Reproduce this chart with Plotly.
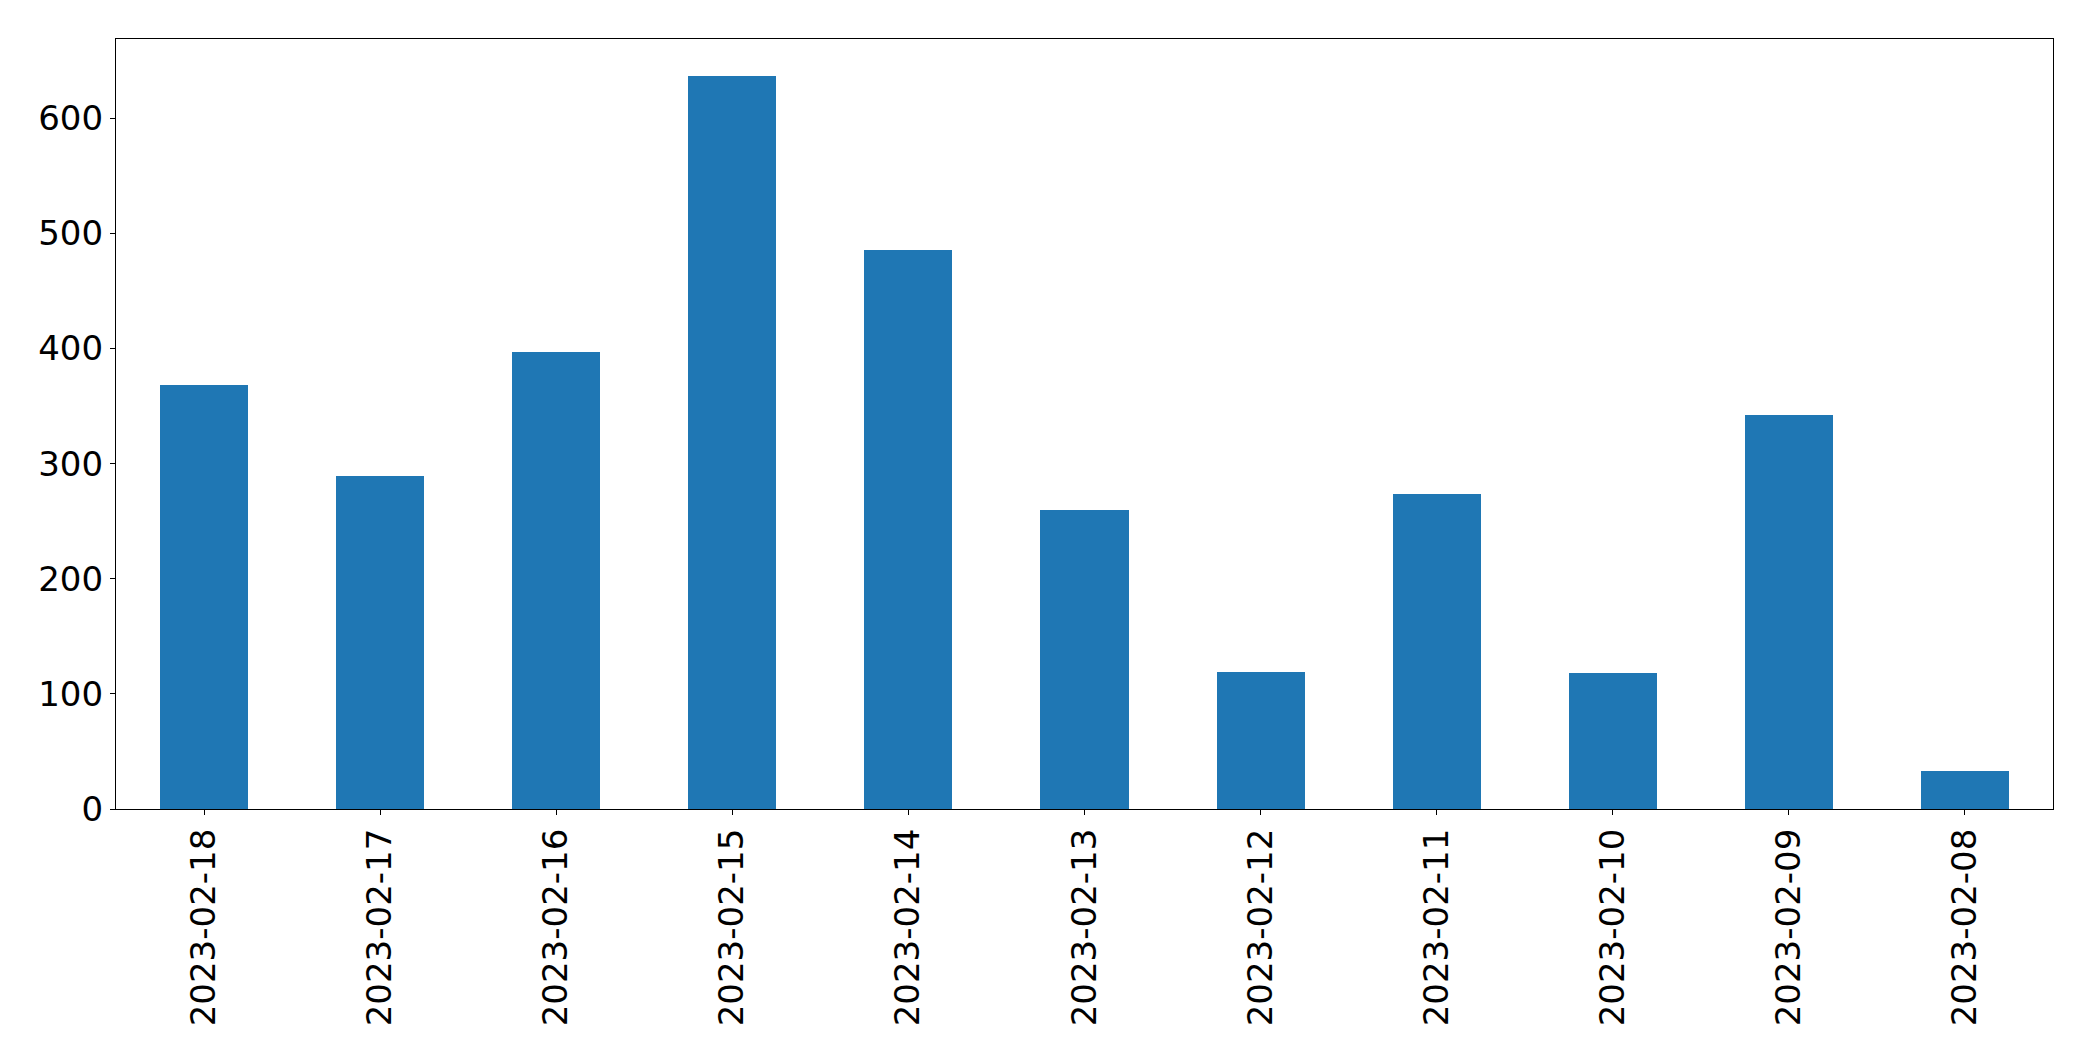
import plotly.graph_objects as go

dates = ["2023-02-18", "2023-02-17", "2023-02-16", "2023-02-15", "2023-02-14",
         "2023-02-13", "2023-02-12", "2023-02-11", "2023-02-10", "2023-02-09", "2023-02-08"]
counts = [368, 289, 397, 637, 486, 260, 119, 274, 118, 342, 33]
y_ticks = [0, 100, 200, 300, 400, 500, 600]

fig = go.Figure(go.Bar(x=dates, y=counts, width=0.5, marker_color="#1f77b4",
                       marker_line_width=0))

font = dict(family="DejaVu Sans", size=34, color="black")
fig.update_layout(
    width=2093, height=1061,
    margin=dict(l=108, r=48, t=31, b=260),
    paper_bgcolor="white", plot_bgcolor="white",
    showlegend=False,
    bargap=0,
)
fig.update_xaxes(type="category", range=[-0.5, len(dates) - 0.5], tickangle=-90,
                 showline=True, linecolor="black", linewidth=1.2, mirror=True,
                 ticks="outside", ticklen=5, tickcolor="black", tickwidth=1.2,
                 tickfont=font, showgrid=False, zeroline=False, automargin=False)
fig.update_yaxes(range=[0, max(counts) * 1.05], tickvals=y_ticks,
                 showline=True, linecolor="black", linewidth=1.2, mirror=True,
                 ticks="outside", ticklen=5, tickcolor="black", tickwidth=1.2,
                 tickfont=font, showgrid=False, zeroline=False, automargin=False)

fig.write_html("out.html")
